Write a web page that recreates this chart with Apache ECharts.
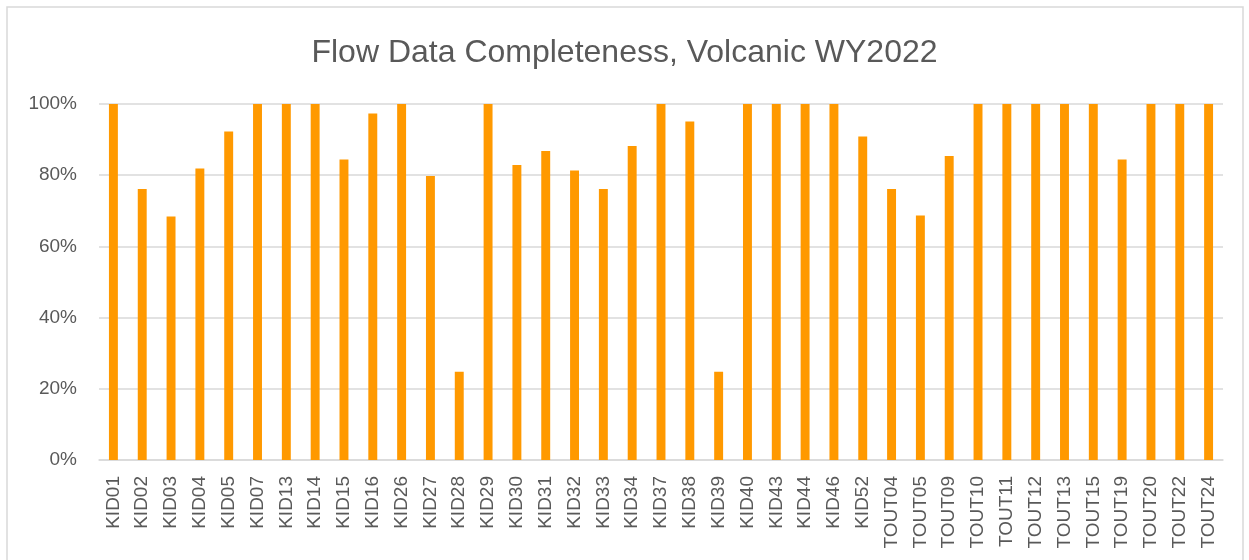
<!DOCTYPE html>
<html>
<head>
<meta charset="utf-8">
<script src="https://cdn.jsdelivr.net/npm/echarts@6/dist/echarts.min.js"></script>
<style>
  html, body { margin: 0; padding: 0; background: #fff; }
  #chart { width: 1249px; height: 560px; }
</style>
</head>
<body>
<div id="chart"></div>
<script>
// stations along the x axis
const stations = [
    'KID01', 'KID02', 'KID03', 'KID04', 'KID05', 'KID07', 'KID13', 'KID14', 'KID15', 'KID16',
    'KID26', 'KID27', 'KID28', 'KID29', 'KID30', 'KID31', 'KID32', 'KID33', 'KID34', 'KID37',
    'KID38', 'KID39', 'KID40', 'KID43', 'KID44', 'KID46', 'KID52', 'TOUT04', 'TOUT05', 'TOUT09',
    'TOUT10', 'TOUT11', 'TOUT12', 'TOUT13', 'TOUT15', 'TOUT19', 'TOUT20', 'TOUT22', 'TOUT24'
];

// percent of flow record present, WY2022
const completeness = [
    100, 76.1, 68.4, 81.9, 92.3, 100, 100, 100, 84.4, 97.3,
    100, 79.8, 24.8, 100, 82.9, 86.8, 81.3, 76.1, 88.2, 100,
    95.1, 24.8, 100, 100, 100, 100, 90.9, 76.1, 68.7, 85.4,
    100, 100, 100, 100, 100, 84.4, 100, 100, 100
];

const yTicks = [0, 20, 40, 60, 80, 100];

const TEXT = '#595959';
const GRIDLINE = '#d9d9d9';

const chart = echarts.init(document.getElementById('chart'));

chart.setOption({
    animation: false,
    backgroundColor: '#fff',
    title: {
        text: 'Flow Data Completeness, Volcanic WY2022',
        left: 'center',
        top: 32,
        textStyle: {
            fontFamily: 'Liberation Sans',
            fontSize: 32,
            fontWeight: 'normal',
            color: TEXT
        }
    },
    graphic: [{
        type: 'rect',
        shape: { x: 7, y: 7, width: 1236, height: 560 },
        style: { fill: 'none', stroke: '#d9d9d9', lineWidth: 1.5 },
        silent: true
    }],
    grid: { left: 99, right: 26, top: 104, bottom: 100 },
    xAxis: {
        type: 'category',
        data: stations,
        axisLine: { lineStyle: { color: GRIDLINE, width: 1.5 } },
        axisTick: { show: false },
        axisLabel: {
            rotate: 90,
            interval: 0,
            margin: 16,
            fontFamily: 'Liberation Sans',
            fontSize: 19,
            color: TEXT
        }
    },
    yAxis: {
        type: 'value',
        min: yTicks[0],
        max: yTicks[yTicks.length - 1],
        interval: 20,
        axisLine: { show: false },
        axisTick: { show: false },
        splitLine: { lineStyle: { color: GRIDLINE, width: 1.5 } },
        axisLabel: {
            margin: 22,
            fontFamily: 'Liberation Sans',
            fontSize: 19,
            color: TEXT,
            formatter: v => `${v}%`
        }
    },
    series: [{
        type: 'bar',
        data: completeness,
        barWidth: '31%',
        itemStyle: { color: '#ff9900' }
    }]
});
</script>
</body>
</html>
